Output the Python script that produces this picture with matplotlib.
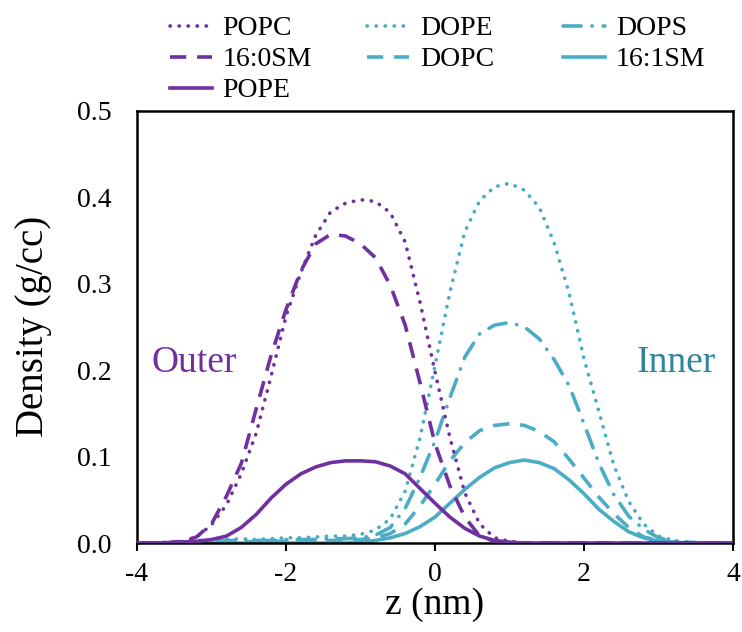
import numpy as np
import matplotlib
matplotlib.use('Agg')
import matplotlib.pyplot as plt

plt.rcParams['font.family'] = 'Liberation Serif'
plt.rcParams['axes.unicode_minus'] = False

z = np.round(np.arange(-4.0, 4.01, 0.2), 1)

# outer leaflet
popc = [0, 0, 0, 0.001, 0.007, 0.021, 0.044, 0.080, 0.127, 0.193, 0.262, 0.313, 0.356, 0.383, 0.393,
        0.397, 0.395, 0.382, 0.348, 0.278, 0.198, 0.122, 0.058, 0.022, 0.006, 0.002, 0, 0, 0, 0, 0,
        0, 0, 0, 0, 0, 0, 0, 0, 0, 0]
sm160 = [0, 0, 0, 0.002, 0.007, 0.022, 0.054, 0.092, 0.155, 0.217, 0.270, 0.315, 0.346, 0.357, 0.355,
         0.346, 0.330, 0.298, 0.252, 0.185, 0.115, 0.066, 0.030, 0.008, 0.002, 0, 0, 0, 0, 0, 0,
         0, 0, 0, 0, 0, 0, 0, 0, 0, 0]
pope = [0, 0, 0.0005, 0.001, 0.002, 0.004, 0.008, 0.018, 0.033, 0.052, 0.068, 0.080, 0.088, 0.093, 0.095,
        0.095, 0.094, 0.089, 0.080, 0.063, 0.046, 0.030, 0.017, 0.008, 0.003, 0.001, 0, 0, 0, 0, 0,
        0, 0, 0, 0, 0, 0, 0, 0, 0, 0]

# inner leaflet
dope = [0, 0, 0.001, 0.002, 0.003, 0.004, 0.004, 0.005, 0.004, 0.005, 0.006, 0.006, 0.007, 0.008, 0.008,
        0.010, 0.015, 0.028, 0.060, 0.122, 0.205, 0.290, 0.360, 0.396, 0.412, 0.416, 0.408, 0.388, 0.347,
        0.289, 0.213, 0.152, 0.090, 0.048, 0.022, 0.008, 0.003, 0.001, 0, 0, 0]
dopc = [0, 0, 0, 0, 0.001, 0.001, 0.001, 0.001, 0.002, 0.002, 0.002, 0.002, 0.003, 0.003, 0.003,
        0.004, 0.006, 0.011, 0.022, 0.043, 0.068, 0.095, 0.116, 0.130, 0.136, 0.138, 0.136, 0.129, 0.117,
        0.097, 0.075, 0.053, 0.034, 0.018, 0.007, 0.003, 0.001, 0, 0, 0, 0]
dops = [0, 0, 0, 0.001, 0.002, 0.002, 0.003, 0.003, 0.003, 0.003, 0.004, 0.004, 0.004, 0.005, 0.005,
        0.006, 0.009, 0.018, 0.040, 0.076, 0.118, 0.168, 0.215, 0.242, 0.252, 0.255, 0.250, 0.236, 0.212,
        0.182, 0.138, 0.092, 0.056, 0.031, 0.016, 0.006, 0.002, 0.001, 0, 0, 0]
sm161 = [0, 0, 0, 0, 0, 0, 0, 0, 0, 0, 0, 0, 0, 0, 0,
         0.001, 0.003, 0.006, 0.011, 0.019, 0.030, 0.046, 0.062, 0.076, 0.087, 0.093, 0.096, 0.093, 0.086,
         0.073, 0.057, 0.039, 0.025, 0.013, 0.006, 0.002, 0.001, 0, 0, 0, 0]

purple = '#7030A0'
aqua = '#4BACC6'
lw = 2.6

fig = plt.figure(figsize=(7.42, 6.32), dpi=100)
ax = fig.add_axes([0.1846, 0.1408, 0.8033, 0.6841])

dot = (0, (0.1, 2.4))
dash = (0, (4.5, 3))
dashdot = (0, (5, 3, 0.1, 3))

l1, = ax.plot(z, popc, color=purple, lw=lw, ls=dot, dash_capstyle='round', label='POPC', zorder=3)
l2, = ax.plot(z, sm160, color=purple, lw=lw, ls=dash, label='16:0SM', zorder=3)
l3, = ax.plot(z, pope, color=purple, lw=lw, label='POPE', zorder=3)
l4, = ax.plot(z, dope, color=aqua, lw=lw, ls=dot, dash_capstyle='round', label='DOPE', zorder=2)
l5, = ax.plot(z, dopc, color=aqua, lw=lw, ls=dash, label='DOPC', zorder=2)
l6, = ax.plot(z, dops, color=aqua, lw=lw, ls=dashdot, dash_capstyle='round', label='DOPS', zorder=2)
l7, = ax.plot(z, sm161, color=aqua, lw=lw, label='16:1SM', zorder=2)

ax.set_xlim(-4, 4)
ax.set_ylim(0, 0.5)
ax.set_xticks([-4, -2, 0, 2, 4])
ax.set_yticks([0, 0.1, 0.2, 0.3, 0.4, 0.5])
ax.set_yticklabels(['0.0', '0.1', '0.2', '0.3', '0.4', '0.5'])
ax.tick_params(axis='x', direction='out', length=6, width=1.5, labelsize=20, pad=8)
ax.tick_params(axis='y', length=0, labelsize=20, pad=18)
for s in ax.spines.values():
    s.set_linewidth(1.8)

ax.set_xlabel('z (nm)', fontsize=27, labelpad=0)
ax.set_ylabel('Density (g/cc)', fontsize=28, labelpad=18)

ax.text(-3.8, 0.208, 'Outer', color=purple, fontsize=27, va='center', ha='left')
ax.text(3.77, 0.208, 'Inner', color='#31849B', fontsize=27, va='center', ha='right')

# legend: three columns placed like the original
cols = [([l1, l2, l3], 0.229), ([l4, l5], 0.4946), ([l6, l7], 0.7588)]
for handles, x0 in cols:
    fig.legend(handles=handles, loc='upper left', bbox_to_anchor=(x0, 0.975), frameon=False,
               fontsize=20, handlelength=1.5, handletextpad=0.4, labelspacing=0.2,
               borderpad=0, borderaxespad=0)

fig.savefig('out.png', dpi=100)
